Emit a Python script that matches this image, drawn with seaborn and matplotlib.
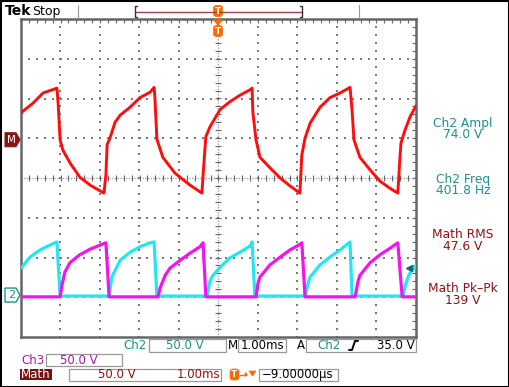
import numpy as np
import pandas as pd
import matplotlib
matplotlib.use("Agg")
import matplotlib.pyplot as plt
from matplotlib.patches import Polygon, Rectangle, FancyBboxPatch
from matplotlib.lines import Line2D
import seaborn as sns

# ---------------- data (time in ms, voltage in V) ----------------
red_t = [-5.00, -4.70, -4.44, -4.09, -4.06, -4.01, -3.94, -3.76, -3.51, -3.25, -2.90, -2.85,
         -2.82, -2.75, -2.62, -2.49, -2.24, -1.99, -1.73, -1.63, -1.61, -1.56, -1.41, -1.10,
         -0.72, -0.42, -0.39, -0.34, -0.32, -0.22, 0.04, 0.29, 0.54, 0.80, 0.85, 0.87, 0.95,
         1.05, 1.30, 1.56, 1.81, 2.06, 2.11, 2.19, 2.32, 2.57, 2.82, 3.08, 3.33, 3.38, 3.43,
         3.58, 3.84, 4.09, 4.34, 4.54, 4.59, 4.62, 4.72, 4.85, 5.00]
red_v = [32, 44, 57, 63, 44, -2, -15, -31, -49, -59, -69, -46,
         -8, 0, 20, 29, 39, 51, 58, 64, 51, -1, -24, -44,
         -59, -69, -46, -11, 2, 14, 36, 46, 54, 61, 63, 33, -2,
         -24, -37, -50, -60, -69, -21, 0, 19, 39, 51, 57, 64, 36, -2,
         -24, -40, -54, -63, -69, -27, -6, 10, 27, 41]

cyan_t = [-5.00, -4.77, -4.52, -4.27, -4.09, -4.01, -2.77, -2.70, -2.49, -2.24, -1.99, -1.73,
          -1.63, -1.56, -0.29, -0.22, -0.14, 0.04, 0.29, 0.54, 0.80, 0.85, 0.92, 2.19, 2.27,
          2.32, 2.57, 2.82, 3.08, 3.33, 3.38, 4.67, 4.72, 4.80, 4.85, 5.00]
cyan_v = [35, 49, 58, 64, 68, 0, 0, 24, 45, 55, 62, 67,
          68, 0, 0, 18, 26, 36, 48, 55, 63, 68, 0, 0, 16,
          24, 39, 49, 58, 68, 0, 0, 11, 24, 29, 38]

mag_t = [-5.00, -4.01, -3.96, -3.89, -3.76, -3.51, -3.25, -3.00, -2.85, -2.77, -1.53, -1.48,
         -1.35, -1.23, -0.97, -0.72, -0.47, -0.39, -0.32, 0.95, 1.00, 1.05, 1.30, 1.56, 1.81,
         2.06, 2.11, 2.19, 3.46, 3.53, 3.58, 3.84, 4.09, 4.34, 4.54, 4.65, 5.00]
mag_v = [-1, -1, 14, 30, 42, 52, 59, 64, 67, -1, -1, 10,
         26, 35, 45, 54, 62, 67, -1, -1, 16, 24, 39, 49, 58,
         65, 67, -1, -1, 18, 26, 42, 52, 60, 67, -1, -1]

volts_per_div = 50.0
math_offset = 1.0      # divisions
ch2_offset = -2.97     # divisions
ch3_offset = -2.97
trig_level = 35.0

meas_labels = ["Ch2 Ampl", "Ch2 Freq", "Math RMS", "Math Pk\u2013Pk"]
meas_values = ["74.0 V", "401.8 Hz", "47.6 V", "139 V"]

# ---------------- style ----------------
sns.set_style("white")
plt.rcParams["font.family"] = ["DejaVu Sans"]

W, H = 510, 387
TEAL = "#1f8f8f"
DRED = "#8a1414"
PURP = "#a21ca2"
ORNG = "#ff6a00"

fig = plt.figure(figsize=(W / 100, H / 100), dpi=100)
fig.patch.set_facecolor("white")

def fx(x):
    return x / W

def fy(y):
    return 1 - y / H

GL, GR, GT, GB = 21, 416, 19, 337
ax = fig.add_axes([fx(GL), fy(GB), (GR - GL) / W, (GB - GT) / H])
ax.set_xlim(-5, 5)
ax.set_ylim(-4, 4)
ax.set_facecolor("white")

# graticule
minor_x = np.arange(-5, 5.001, 0.2)
minor_y = np.arange(-4, 4.001, 0.2)
for gx in range(-4, 5):
    if gx == 0:
        continue
    ax.scatter(np.full_like(minor_y, gx), minor_y, s=1.5, marker="s", color="#7a7a7a", lw=0, zorder=1)
for gy in range(-3, 4):
    if gy == 0:
        continue
    ax.scatter(minor_x, np.full_like(minor_x, gy), s=1.5, marker="s", color="#7a7a7a", lw=0, zorder=1)
ax.axhline(0, color="#999", lw=0.9, ls=(0, (1, 1.2)), zorder=1)
ax.axvline(0, color="#999", lw=0.9, ls=(0, (1, 1.2)), zorder=1)
ax.plot(minor_x, np.zeros_like(minor_x), ls="none", marker="|", ms=4, mew=0.8, color="#666", zorder=1)
ax.plot(np.zeros_like(minor_y), minor_y, ls="none", marker="_", ms=4, mew=0.8, color="#666", zorder=1)

ax.set_xticks(minor_x)
ax.set_yticks(minor_y)
ax.tick_params(direction="in", length=3, width=0.8, color="#666", top=True, right=True,
               labelbottom=False, labelleft=False)
for sp in ax.spines.values():
    sp.set_color("#666")
    sp.set_linewidth(1.8)
    sp.set_visible(True)

# traces
df_red = pd.DataFrame({"t": red_t, "y": [math_offset + v / volts_per_div for v in red_v]})
df_cyan = pd.DataFrame({"t": cyan_t, "y": [ch2_offset + v / volts_per_div for v in cyan_v]})
df_mag = pd.DataFrame({"t": mag_t, "y": [ch3_offset + v / volts_per_div for v in mag_v]})

sns.lineplot(data=df_red, x="t", y="y", sort=False, estimator=None, color="#ff0d0d", lw=2.1, ax=ax, zorder=3)
sns.lineplot(data=df_cyan, x="t", y="y", sort=False, estimator=None, color="#22e6f0", lw=2.3, ax=ax, zorder=3)
sns.lineplot(data=df_mag, x="t", y="y", sort=False, estimator=None, color="#f014f0", lw=2.3, ax=ax, zorder=4)
ax.set_xlabel("")
ax.set_ylabel("")

# trigger level arrow (right edge)
ty = ch2_offset + trig_level / volts_per_div
ax.plot([4.82], [ty], marker="<", ms=5, color="#137070", zorder=5, clip_on=False)

def ypix(div):
    return 178 - div * 39.75

# channel markers on the left
my = ypix(math_offset) + 1.5
fig.patches.append(Polygon([(fx(5), fy(my - 7)), (fx(16), fy(my - 7)), (fx(20), fy(my)),
                            (fx(16), fy(my + 7)), (fx(5), fy(my + 7))], closed=True,
                           transform=fig.transFigure, facecolor=DRED, edgecolor=DRED, lw=0.8))
fig.text(fx(11.5), fy(my), "M", color="white", fontsize=7.5, ha="center", va="center")
cy = ypix(ch2_offset) - 1
fig.patches.append(Polygon([(fx(5), fy(cy - 7)), (fx(16), fy(cy - 7)), (fx(20), fy(cy)),
                            (fx(16), fy(cy + 7)), (fx(5), fy(cy + 7))], closed=True,
                           transform=fig.transFigure, facecolor="white", edgecolor=TEAL, lw=1.0))
fig.text(fx(11.5), fy(cy), "2", color=TEAL, fontsize=8, ha="center", va="center")

# header
fig.text(fx(5), fy(11), "Tek", fontsize=10, fontweight="bold", ha="left", va="center", color="black")
fig.text(fx(32), fy(11), "Stop", fontsize=9, ha="left", va="center", color="black")
fig.lines.append(Line2D([fx(78), fx(78)], [fy(5), fy(18)], transform=fig.transFigure, color="#999", lw=0.8))
fig.lines.append(Line2D([fx(359), fx(359)], [fy(5), fy(18)], transform=fig.transFigure, color="#999", lw=0.8))
fig.lines.append(Line2D([fx(136), fx(302)], [fy(12), fy(12)], transform=fig.transFigure, color="#a04040", lw=1.0))
fig.lines.append(Line2D([fx(137), fx(135), fx(135), fx(137)], [fy(6), fy(6), fy(17), fy(17)],
                        transform=fig.transFigure, color="#333", lw=1.0))
fig.lines.append(Line2D([fx(300), fx(302), fx(302), fx(300)], [fy(6), fy(6), fy(17), fy(17)],
                        transform=fig.transFigure, color="#333", lw=1.0))

def t_icon(xc, yc, w=9, h=11):
    fig.patches.append(FancyBboxPatch((fx(xc - w / 2), fy(yc + h / 2)), w / W, h / H,
                                      boxstyle="round,pad=0,rounding_size=0.006",
                                      transform=fig.transFigure, facecolor=ORNG, edgecolor=ORNG, lw=0.5))
    fig.text(fx(xc), fy(yc), "T", color="white", fontsize=6.5, fontweight="bold", ha="center", va="center")

t_icon(218, 11)
fig.patches.append(Polygon([(fx(214), fy(20)), (fx(222), fy(20)), (fx(218), fy(25))], closed=True,
                           transform=fig.transFigure, facecolor=ORNG, edgecolor=ORNG))
t_icon(218, 31)

# measurements on the right
meas_colors = [TEAL, TEAL, DRED, DRED]
meas_y = [123, 179, 234, 289]
for lab, val, c, yy in zip(meas_labels, meas_values, meas_colors, meas_y):
    fig.text(fx(463), fy(yy), lab, color=c, fontsize=8.8, ha="center", va="center")
    fig.text(fx(463), fy(yy + 12), val, color=c, fontsize=8.8, ha="center", va="center")

# bottom status
def box(x0, y0, x1, y1, ec="#999"):
    fig.patches.append(Rectangle((fx(x0), fy(y1)), (x1 - x0) / W, (y1 - y0) / H,
                                 transform=fig.transFigure, facecolor="none", edgecolor=ec, lw=0.9))

FS = 8.5
r1 = 345.5
fig.text(fx(147), fy(r1), "Ch2", color=TEAL, fontsize=FS, ha="right", va="center")
box(149, 339, 226, 352)
fig.text(fx(185), fy(r1), "50.0 V", color=TEAL, fontsize=FS, ha="center", va="center")
fig.text(fx(228), fy(r1), "M", color="black", fontsize=FS, ha="left", va="center")
box(238, 339, 286, 352)
fig.text(fx(262), fy(r1), "1.00ms", color="black", fontsize=FS, ha="center", va="center")
fig.text(fx(297), fy(r1), "A", color="black", fontsize=FS, ha="left", va="center")
box(306, 339, 416, 352)
fig.text(fx(317), fy(r1), "Ch2", color=TEAL, fontsize=FS, ha="left", va="center")
fig.lines.append(Line2D([fx(349), fx(352), fx(355), fx(358)], [fy(350), fy(350), fy(341), fy(341)],
                        transform=fig.transFigure, color="black", lw=1.4))
fig.text(fx(415), fy(r1), "35.0 V", color="black", fontsize=FS, ha="right", va="center")

r2 = 360
fig.text(fx(21), fy(r2), "Ch3", color=PURP, fontsize=FS, ha="left", va="center")
box(46, 354, 122, 366)
fig.text(fx(60), fy(r2), "50.0 V", color=PURP, fontsize=FS, ha="left", va="center")

r3 = 374.5
fig.patches.append(Rectangle((fx(20), fy(380)), 32 / W, 11 / H, transform=fig.transFigure,
                             facecolor="#7a1212", edgecolor="none"))
fig.text(fx(36), fy(r3), "Math", color="white", fontsize=FS, ha="center", va="center")
box(69, 369, 221, 381)
fig.text(fx(98), fy(r3), "50.0 V", color=DRED, fontsize=FS, ha="left", va="center")
fig.text(fx(220), fy(r3), "1.00ms", color=DRED, fontsize=FS, ha="right", va="center")
t_icon(234.5, 374.5, w=9, h=11)
fig.lines.append(Line2D([fx(240), fx(246)], [fy(374.5), fy(374.5)], transform=fig.transFigure, color=ORNG, lw=1.0))
fig.patches.append(Polygon([(fx(245), fy(372.5)), (fx(247.5), fy(374.5)), (fx(245), fy(376.5))], closed=True,
                           transform=fig.transFigure, facecolor=ORNG, edgecolor=ORNG, lw=0.5))
fig.patches.append(Polygon([(fx(249), fy(371)), (fx(256), fy(371)), (fx(252.5), fy(376))], closed=True,
                           transform=fig.transFigure, facecolor=ORNG, edgecolor=ORNG, lw=0.5))
box(259, 369, 338, 381)
fig.text(fx(262), fy(r3), "\u22129.00000\u00b5s", color="black", fontsize=FS, ha="left", va="center")

# outer frame
fig.patches.append(Rectangle((0.5 / W, 0.5 / H), (W - 1.5) / W, (H - 1.5) / H, transform=fig.transFigure,
                             facecolor="none", edgecolor="black", lw=1.5))

fig.savefig("out.png", dpi=100, facecolor="white")
